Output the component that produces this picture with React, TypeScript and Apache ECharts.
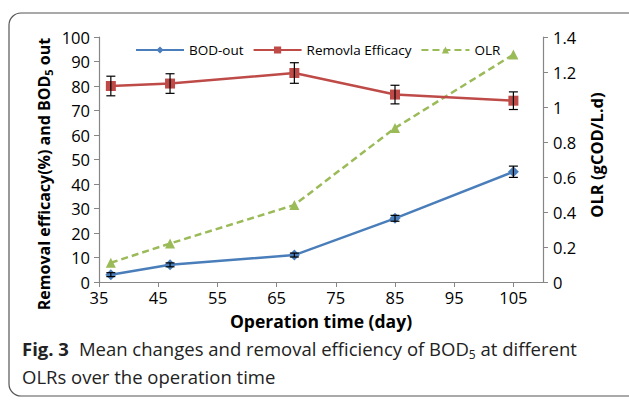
import React, { useEffect, useRef } from "react";
import * as echarts from "echarts";

const days = [37, 47, 68, 85, 105];
const bodOut = [3, 7, 11, 26, 45];
const bodErr = [0.8, 0.8, 0.8, 1.2, 2.3];
const removal = [80, 81, 85.3, 76.5, 74];
const removalErr = [4, 4, 4.2, 3.8, 3.6];
const olr = [0.11, 0.22, 0.44, 0.88, 1.3];

const FONT = "'Open Sans', 'Noto Sans', sans-serif";

function errData(vals: number[], errs: number[]) {
  return days.map((d, i) => [d, vals[i] - errs[i], vals[i] + errs[i]]);
}

function errRender(params: any, api: any) {
  const x = api.value(0);
  const lo = api.coord([x, api.value(1)]);
  const hi = api.coord([x, api.value(2)]);
  const w = 4.5;
  const style = { stroke: "#000", lineWidth: 1.2 };
  return {
    type: "group",
    children: [
      { type: "line", shape: { x1: lo[0], y1: lo[1], x2: hi[0], y2: hi[1] }, style },
      { type: "line", shape: { x1: lo[0] - w, y1: lo[1], x2: lo[0] + w, y2: lo[1] }, style },
      { type: "line", shape: { x1: hi[0] - w, y1: hi[1], x2: hi[0] + w, y2: hi[1] }, style },
    ],
  };
}

export default function App() {
  const ref = useRef<HTMLDivElement>(null);
  useEffect(() => {
    const chart = echarts.init(ref.current!, null, { renderer: "svg" });
    const axisLine = { lineStyle: { color: "#868686", width: 1.2 } };
    const label = { color: "#000", fontSize: 16.5, fontFamily: FONT };
    const tick = { show: true, length: 5, lineStyle: { color: "#868686" } };
    chart.setOption({
      animation: false,
      backgroundColor: "#fff",
      textStyle: { fontFamily: FONT },
      grid: { left: 99, right: 86, top: 37, bottom: 118 },
      legend: {
        top: 38,
        left: 130,
        itemWidth: 48,
        itemHeight: 9,
        itemGap: 9,
        textStyle: { color: "#000", fontSize: 13.5, fontFamily: FONT },
        data: ["BOD-out", "Removla Efficacy", "OLR"],
      },
      graphic: [
        {
          type: "rect",
          shape: { x: 9, y: 13, width: 660, height: 383, r: 12 },
          style: { fill: "none", stroke: "#555", lineWidth: 1.2 },
          z: -1,
        },
        {
          type: "text",
          x: 44,
          y: 174,
          rotation: Math.PI / 2,
          style: {
            text: "Removal efficacy(%) and BOD{s|5} out",
            align: "center",
            verticalAlign: "middle",
            textAlign: "center",
            textVerticalAlign: "middle",
            fontSize: 16,
            fontWeight: "bold",
            fontFamily: FONT,
            fill: "#000",
            rich: {
              s: { fontSize: 11, fontWeight: "bold", fontFamily: FONT, fill: "#000", padding: [8, 0, 0, 0] },
            },
          },
        },
        {
          type: "text",
          x: 596,
          y: 155,
          rotation: Math.PI / 2,
          style: {
            text: "OLR (gCOD/L.d)",
            align: "center",
            verticalAlign: "middle",
            textAlign: "center",
            textVerticalAlign: "middle",
            fontSize: 16.5,
            fontWeight: "bold",
            fontFamily: FONT,
            fill: "#000",
          },
        },
        {
          type: "text",
          left: 22,
          top: 339,
          style: {
            text: "{b|Fig. 3}   {n|Mean changes and removal efficiency of BOD}{s|5}{n| at different}",
            rich: {
              b: { fontSize: 18.5, fontWeight: "bold", fontFamily: FONT, fill: "#222" },
              n: { fontSize: 18.5, fontFamily: FONT, fill: "#222" },
              s: { fontSize: 12, fontFamily: FONT, fill: "#222", padding: [12, 0, 0, 0] },
            },
          },
        },
        {
          type: "text",
          left: 22,
          top: 367,
          style: { text: "OLRs over the operation time", fontSize: 18.5, fontFamily: FONT, fill: "#222" },
        },
      ],
      xAxis: {
        type: "value",
        min: 35,
        max: 110,
        interval: 10,
        name: "Operation time (day)",
        nameLocation: "middle",
        nameGap: 30,
        nameTextStyle: { fontSize: 17.5, fontWeight: "bold", color: "#000", fontFamily: FONT },
        axisLine: { ...axisLine, onZero: false },
        axisTick: tick,
        axisLabel: { ...label, showMaxLabel: false, margin: 7 },
        splitLine: { show: false },
      },
      yAxis: [
        {
          type: "value",
          min: 0,
          max: 100,
          interval: 10,
          axisLine: { show: true, ...axisLine },
          axisTick: tick,
          axisLabel: { ...label, margin: 9 },
          splitLine: { show: false },
        },
        {
          type: "value",
          min: 0,
          max: 1.4,
          interval: 0.2,
          axisLine: { show: true, ...axisLine },
          axisTick: tick,
          axisLabel: { ...label, margin: 10, formatter: (v: number) => String(Math.round(v * 10) / 10) },
          splitLine: { show: false },
        },
      ],
      series: [
        {
          name: "BOD-out",
          type: "line",
          data: days.map((d, i) => [d, bodOut[i]]),
          symbol: "diamond",
          symbolSize: 11,
          lineStyle: { color: "#4A7EBB", width: 2.5 },
          itemStyle: { color: "#4A7EBB" },
          z: 3,
        },
        {
          name: "Removla Efficacy",
          type: "line",
          data: days.map((d, i) => [d, removal[i]]),
          symbol: "rect",
          symbolSize: 10,
          lineStyle: { color: "#BE4B48", width: 2.5 },
          itemStyle: { color: "#BE4B48" },
          z: 3,
        },
        {
          name: "OLR",
          type: "line",
          yAxisIndex: 1,
          data: days.map((d, i) => [d, olr[i]]),
          symbol: "triangle",
          symbolSize: 10,
          lineStyle: { color: "#9BBB59", width: 2.5, type: [7, 4] },
          itemStyle: { color: "#9BBB59" },
          z: 2,
        },
        {
          type: "custom",
          data: errData(removal, removalErr),
          renderItem: errRender,
          z: 4,
          silent: true,
        },
        {
          type: "custom",
          data: errData(bodOut, bodErr),
          renderItem: errRender,
          z: 4,
          silent: true,
        },
      ],
    });
    return () => chart.dispose();
  }, []);
  return (
    <div
      ref={ref}
      style={{ position: "absolute", left: 0, top: 0, width: 629, height: 400 }}
    />
  );
}
